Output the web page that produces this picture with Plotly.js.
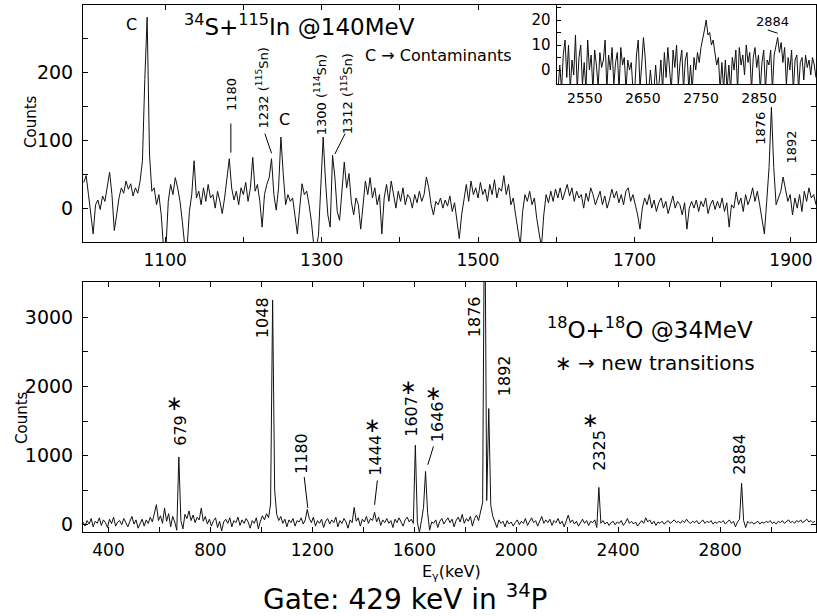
<!DOCTYPE html>
<html>
<head>
<meta charset="utf-8">
<script src="https://cdn.plot.ly/plotly-3.0.1.min.js"></script>
<style>html,body{margin:0;padding:0;background:#fff;}#chart{width:817px;height:616px;}</style>
</head>
<body>
<div id="chart"></div>
<script>
// ---------- DATA ----------
// Top panel: 34S+115In @140MeV, gate 429 keV, 3 keV bins starting at 996 keV
const topStart = 996, topStep = 3;
const topCounts = [
  38, 48, 20, -5, -38, 5, 12, -2, 18, 10,
  30, 53, 20, -33, -10, 15, 30, 22, 40, 28,
  36, 18, 30, 22, 40, 70, 190, 282, 80, 25,
  30, 5, 20, -10, -60, -60, 10, 35, 20, 45,
  30, 10, -20, -55, -60, -5, 20, 70, 15, 25,
  5, 30, 10, 35, 15, 20, 0, 25, 10, -8,
  15, 40, 73, 30, 12, 25, 5, 30, 20, 38,
  10, 30, 75, 25, 35, 10, -28, 20, 35, 45,
  73, 20, -3, 30, 105, 50, 5, 20, 10, 15,
  -15, -38, 0, 36, 20, 25, 5, -20, -55, -60,
  -40, 30, 105, 40, -10, -28, 78, 45, -5, -18,
  20, 68, 30, 51, 10, -10, 15, 5, -31, 10,
  40, 20, 45, 15, 30, 5, 20, -38, 15, 35,
  10, 40, 20, 0, 25, 10, 30, 5, 20, 15,
  0, 20, 8, 25, 10, 20, 46, 30, 5, -10,
  10, 5, 15, 0, 12, 3, 18, -5, 8, -20,
  -45, -10, 15, 35, 10, 40, 20, 30, 15, 38,
  20, 28, 10, 35, 20, 42, 15, 30, 25, 48,
  20, 35, 5, 15, -10, -30, -55, -5, 20, 10,
  25, 5, 15, -15, -40, -58, -10, 20, 8, 25,
  10, 28, 15, 30, 12, 25, 35, 18, 30, 10,
  25, 15, 20, 0, 22, 10, 30, 20, 5, 15,
  25, 5, 18, 0, 12, 28, 15, 25, 8, 20,
  5, 25, 30, 10, 20, 5, -10, -31, 0, 15,
  5, 20, 0, 12, -5, 8, 15, 0, 10, -8,
  5, 18, 0, 10, 5, -10, 8, -31, 0, 10,
  0, 12, -5, 10, 2, 15, -8, 5, 12, -2,
  10, 0, 15, -5, 8, -28, 5, 0, 24, 5,
  15, -5, 20, 5, 15, 30, 10, 25, 5, -20,
  -38, 10, 60, 149, 60, 5, 15, 25, 46, 30,
  10, 20, -10, 15, 0, 20, -5, 25, 10, 30,
  15, 20, 5
];

// Inset: high-energy part of the top spectrum, 3 keV bins starting at 2504 keV
const insetStart = 2504, insetStep = 3;
const insetCounts = [
  -8, 2, -8, 6, 12, -3, 10, -8, 4, -2,
  14, -8, 5, 10, -6, 3, -8, 12, 0, 6,
  -8, 8, 2, -7, 7, 1, 4, 12, -8, 6,
  0, 9, -6, 3, 7, -8, 9, 2, 5, -8,
  4, 0, 3, -8, -8, 6, 12, -7, 2, 13,
  5, -8, -8, 0, -8, -8, 2, -8, -5, 4,
  -8, 7, -3, 9, 0, -8, 8, 1, 10, -6,
  3, 8, -8, 4, 7, -8, 2, -8, 5, 0,
  7, 3, 9, 12, 16, 20, 14, 15, 10, 12,
  6, 2, 5, -8, 3, -8, 4, -8, 2, -8,
  5, 0, 8, -8, 9, 2, 6, -2, 10, 3,
  7, -8, 5, 9, 1, 6, -8, 3, 8, -8,
  4, 2, 8, -8, 6, 10, 13, 7, 11, 3,
  9, -6, 5, 0, 8, -8, 4, 6, -8, 3,
  5, -4, 6, 1, 4, -2, 5, 2, -3
];

// Bottom panel: 18O+18O @34MeV, gate 429 keV, 8 keV bins starting at 300 keV
const botStart = 300, botStep = 8;
const botCounts = [
  40, -20, 60, 10, 90, -30, 50, 20, 100, -10,
  70, 30, -40, 80, 15, 110, -20, 40, 60, 0,
  90, 20, -30, 50, 120, 10, 70, -50, 30, 80,
  -20, 70, 20, 110, 40, 150, 290, 60, 130, 20,
  240, 50, 160, -30, 120, 40, -80, 980, 60, -60,
  150, 90, 200, 60, 140, 30, 110, 70, 240, 50,
  120, 10, 80, -20, 60, 100, -40, 50, -90, 40,
  80, 20, 100, -30, 60, 30, 110, -10, 70, 20,
  90, 40, -50, 60, 20, 100, -60, 50, 130, 70,
  160, 100, 300, 3250, 500, 150, 60, 120, 20, 80,
  -30, 70, 30, 90, -20, 60, 40, 100, 10, 70,
  220, 90, 30, 110, -20, 60, 20, 80, -40, 50,
  90, 10, 70, 30, 110, -30, 60, 20, 90, 40,
  -50, 70, 30, 250, 50, 100, -20, 80, 40, 120,
  20, 90, 60, 180, 40, 110, -10, 70, 30, 90,
  20, 60, -40, 80, 30, 100, 50, -20, 70, 110,
  40, 80, 20, 1150, 30, -110, 60, 250, 770, 180,
  -80, 40, 20, 70, -40, 50, 90, 10, 60, 100,
  30, 80, -30, 60, 110, 40, 150, 20, 90, 50,
  120, -20, 90, 140, 60, 200, 320, 5200, 350, 1680,
  280, 120, 40, -40, 70, 20, 50, -30, 60, 10,
  40, -20, 30, 70, 0, 50, 20, 90, -10, 40,
  100, 30, 60, -20, 50, 120, 20, 70, 30, 80,
  -10, 60, 30, 90, 10, 50, -30, 60, 140, 30,
  70, 10, 50, -20, 40, 80, 20, 60, -10, 50,
  30, 70, -40, 540, 20, 60, 10, 40, -10, 30,
  50, 0, 40, 20, 60, -10, 30, 90, 20, 50,
  10, 40, -20, 30, 60, 20, 100, 40, 70, 10,
  50, -10, 40, 20, 50, 10, 30, 60, 20, 40,
  70, 30, 50, 20, 60, 30, 80, 40, 20, 50,
  30, 60, 10, 40, 70, 20, 50, 30, 60, 10,
  40, 20, 50, 30, 60, 10, 40, 70, 20, 50,
  -30, 40, 80, 600, 60, -40, 50, 20, 40, 10,
  30, 50, 10, 40, 20, 50, 30, 60, 20, 40,
  10, 50, 30, 60, 20, 40, 70, 30, 50, 20,
  60, 40, 70, 30, 50, 80, 40, 60, 30, 50
];

// Tick labels
const topXTickVals = [1100, 1200, 1300, 1400, 1500, 1600, 1700, 1800, 1900];
const topXTickText = ['1100', '', '1300', '', '1500', '', '1700', '', '1900'];
const topYTickVals = [0, 50, 100, 150, 200, 250];
const topYTickText = ['0', '', '100', '', '200', ''];
const insetXTickVals = [2550, 2650, 2750, 2850];
const insetXTickText = ['2550', '2650', '2750', '2850'];
const insetYTickVals = [0, 5, 10, 15, 20, 25];
const insetYTickText = ['0', '', '10', '', '20', ''];
const botXTickVals = [400, 600, 800, 1000, 1200, 1400, 1600, 1800, 2000, 2200, 2400, 2600, 2800, 3000];
const botXTickText = ['400', '', '800', '', '1200', '', '1600', '', '2000', '', '2400', '', '2800', ''];
const botYTickVals = [0, 500, 1000, 1500, 2000, 2500, 3000];
const botYTickText = ['0', '', '1000', '', '2000', '', '3000'];

// Text labels
const topTitle = '<sup>34</sup>S+<sup>115</sup>In @140MeV';
const topNote = 'C \u2192 Contaminants';
const botTitle = '<sup>18</sup>O+<sup>18</sup>O @34MeV';
const botNote = '\u2217 \u2192 new transitions';
const gateText = 'Gate: 429 keV in <sup>34</sup>P';
const topPeakLabels = ['1180', '1232 (<sup>115</sup>Sn)', '1300 (<sup>114</sup>Sn)', '1312 (<sup>115</sup>Sn)', '1876', '1892'];
const botPeakLabels = ['679', '1048', '1180', '1444', '1607', '1646', '1876', '1892', '2325', '2884'];

// ---------- BUILD ----------
const FONT = 'DejaVu Sans';
const bins = (arr, s, w) => arr.map((_, i) => s + w * i);

const lineStyle = {color: '#111', width: 1, shape: 'linear'};
const traces = [
  {x: bins(topCounts, topStart, topStep), y: topCounts, xaxis: 'x', yaxis: 'y', type: 'scatter', mode: 'lines', line: lineStyle, hoverinfo: 'skip'},
  {x: bins(botCounts, botStart, botStep), y: botCounts, xaxis: 'x2', yaxis: 'y2', type: 'scatter', mode: 'lines', line: lineStyle, hoverinfo: 'skip'},
  {x: bins(insetCounts, insetStart, insetStep), y: insetCounts, xaxis: 'x3', yaxis: 'y3', type: 'scatter', mode: 'lines', line: lineStyle, hoverinfo: 'skip'}
];

function ax(extra) {
  return Object.assign({
    showline: true, linecolor: '#000', linewidth: 1, mirror: 'allticks',
    ticks: 'inside', ticklen: 5, tickwidth: 1, tickcolor: '#000',
    showgrid: false, zeroline: false, tickmode: 'array',
    tickfont: {family: FONT, size: 17, color: '#000'},
    fixedrange: true
  }, extra);
}
const yFont = {family: FONT, size: 19, color: '#000'};

const topY0 = 0.5503, botY1 = 0.4744;

const layout = {
  width: 817, height: 616,
  margin: {l: 83, r: 1, t: 5, b: 84, pad: 0},
  paper_bgcolor: '#fff', plot_bgcolor: '#fff',
  showlegend: false,
  font: {family: FONT, color: '#000', size: 17},
  xaxis: ax({domain: [0, 1], anchor: 'y', range: [995, 1932], tickvals: topXTickVals, ticktext: topXTickText, ticklabelstandoff: 3}),
  yaxis: ax({domain: [topY0, 1], anchor: 'x', range: [-50, 300], tickvals: topYTickVals, ticktext: topYTickText, ticklabelstandoff: 5, tickfont: yFont}),
  xaxis2: ax({domain: [0, 1], anchor: 'y2', range: [300, 3176], tickvals: botXTickVals, ticktext: botXTickText, ticklabelstandoff: 3}),
  yaxis2: ax({domain: [0, botY1], anchor: 'x2', range: [-105, 3510], tickvals: botYTickVals, ticktext: botYTickText, ticklabelstandoff: 5, tickfont: yFont}),
  xaxis3: ax({domain: [0.6473, 1], anchor: 'y3', range: [2503, 2948], tickvals: insetXTickVals, ticktext: insetXTickText, ticks: '', mirror: false, ticklabelstandoff: 1, tickfont: {family: FONT, size: 14, color: '#000'}}),
  yaxis3: ax({domain: [0.8501, 1], anchor: 'x3', range: [-5.6, 26], tickvals: insetYTickVals, ticktext: insetYTickText, ticklen: 4, mirror: false, ticklabelstandoff: 3, tickfont: {family: FONT, size: 15, color: '#000'}}),
  annotations: [],
  shapes: []
};

function txt(x, y, text, size, xref, yref, angle) {
  layout.annotations.push({x: x, y: y, xref: xref, yref: yref, text: text, showarrow: false,
    textangle: angle || 0, xanchor: 'center', yanchor: 'middle',
    font: {family: FONT, size: size, color: '#000'}});
}
function seg(x0, y0, x1, y1, xref, yref) {
  layout.shapes.push({type: 'line', xref: xref, yref: yref, x0: x0, y0: y0, x1: x1, y1: y1, line: {color: '#000', width: 1}});
}

// top panel texts
txt(1057, 271, 'C', 16, 'x', 'y');
txt(1272, 271, topTitle, 23, 'x', 'y');
txt(1450, 225, topNote, 16, 'x', 'y');
txt(1185, 168, topPeakLabels[0], 13, 'x', 'y', -90);
txt(1223.6, 178, topPeakLabels[1], 13, 'x', 'y', -90);
txt(1253, 131, 'C', 16, 'x', 'y');
txt(1299, 168, topPeakLabels[2], 13, 'x', 'y', -90);
txt(1332, 169, topPeakLabels[3], 13, 'x', 'y', -90);
txt(1861, 118, topPeakLabels[4], 13, 'x', 'y', -90);
txt(1900.5, 90, topPeakLabels[5], 13, 'x', 'y', -90);
seg(1184, 82, 1184, 125, 'x', 'y');
seg(1236, 81, 1227.5, 110, 'x', 'y');
seg(1317, 80, 1330, 110, 'x', 'y');
// inset
txt(2873.5, 19.6, '2884', 13, 'x3', 'y3');
seg(2865, 16, 2882, 14.7, 'x3', 'y3');

// bottom panel texts
const S = 16;
txt(685, 1360, botPeakLabels[0], S, 'x2', 'y2', -90);
txt(658, 1766, '\u2217', 20, 'x2', 'y2');
txt(1007, 2990, botPeakLabels[1], S, 'x2', 'y2', -90);
txt(1160, 1026, botPeakLabels[2], S, 'x2', 'y2', -90);
txt(1449, 1011, botPeakLabels[3], S, 'x2', 'y2', -90);
txt(1434.5, 1446, '\u2217', 20, 'x2', 'y2');
txt(1591, 1562, botPeakLabels[4], S, 'x2', 'y2', -90);
txt(1576, 1996, '\u2217', 20, 'x2', 'y2');
txt(1691, 1490, botPeakLabels[5], S, 'x2', 'y2', -90);
txt(1674, 1910, '\u2217', 20, 'x2', 'y2');
txt(1839, 3004, botPeakLabels[6], S, 'x2', 'y2', -90);
txt(1952.5, 2150, botPeakLabels[7], S, 'x2', 'y2', -90);
txt(2329, 1070, botPeakLabels[8], S, 'x2', 'y2', -90);
txt(2290, 1519, '\u2217', 20, 'x2', 'y2');
txt(2878, 1013, botPeakLabels[9], S, 'x2', 'y2', -90);
txt(2525, 2850, botTitle, 23, 'x2', 'y2');
txt(2545, 2345, botNote, 20, 'x2', 'y2');
seg(1182, 243, 1168, 690, 'x2', 'y2');
seg(1444, 289, 1455, 641, 'x2', 'y2');
seg(1653, 868, 1675, 1133, 'x2', 'y2');

// axis titles and caption (paper coords)
txt(-0.0709, 0.778, 'Counts', 15, 'paper', 'paper', -90);
txt(-0.0832, 0.2163, 'Counts', 15, 'paper', 'paper', -90);
txt(0.5034, -0.0760, 'E<sub>\u03b3</sub>(keV)', 16, 'paper', 'paper');
txt(0.4393, -0.124, gateText, 28, 'paper', 'paper');

Plotly.newPlot('chart', traces, layout, {displayModeBar: false, staticPlot: true});
</script>
</body>
</html>
